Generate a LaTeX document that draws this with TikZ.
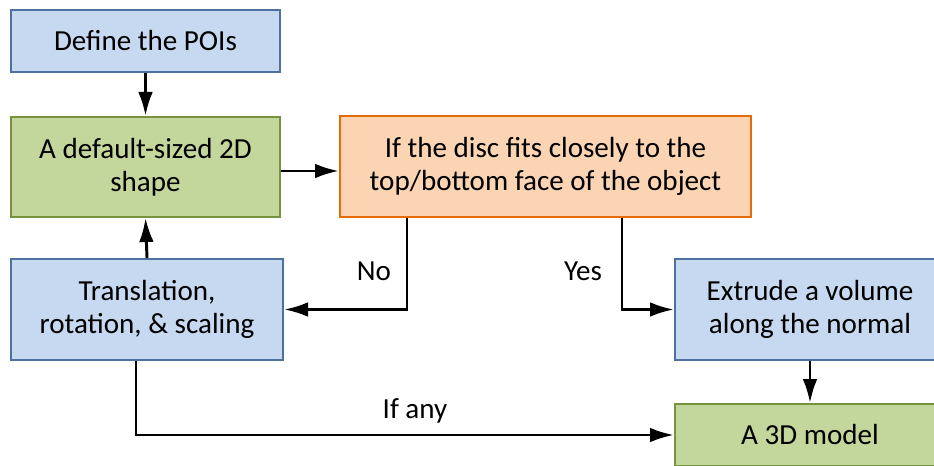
\documentclass[tikz,border=0pt]{standalone}
\usepackage{fontspec}
\setmainfont{Carlito}
\usepackage{tikz}
\usetikzlibrary{arrows.meta}
\definecolor{bfill}  {RGB}{198,217,240}
\definecolor{bline}  {RGB}{79,113,157}
\definecolor{gfill}  {RGB}{195,214,155}
\definecolor{gline}  {RGB}{118,146,60}
\definecolor{ofill}  {RGB}{251,212,180}
\definecolor{oline}  {RGB}{228,108,10}
\tikzset{
    bluebox/.style={draw=bline, fill=bfill, line width=1.5pt, align=center, inner sep=0pt},
    greenbox/.style={draw=gline, fill=gfill, line width=1.5pt, align=center, inner sep=0pt},
    orangebox/.style={draw=oline, fill=ofill, line width=1.5pt, align=center, inner sep=0pt},
    flow/.style={draw=black, line width=2.2pt, -{Latex[length=18pt,width=11pt]}},
    lbl/.style={inner sep=0pt}
  }

\begin{document}
\begin{tikzpicture}[x=0.75pt, y=-0.75pt,
                     font=\fontsize{21.8}{25}\selectfont
     ]
 \clip (0,0) rectangle (934,466);
 %Boxes
     \node[bluebox, minimum width=201.75pt, minimum height=46.5pt] (poi) at (145.5,41) {Define the POIs};
     \node[greenbox, minimum width=201.75pt, minimum height=75pt] (shape) at (145.5,167) {A default-sized 2D\\shape};
     \node[orangebox, minimum width=308.25pt, minimum height=75.75pt] (check) at (545.5,166.5) {If the disc fits closely to the\\top/bottom face of the object};
     \node[bluebox, minimum width=204pt, minimum height=75.75pt] (transform) at (147,309.5) {Translation,\\rotation, \& scaling};
     \node[bluebox, minimum width=202.5pt, minimum height=75.75pt] (extrude) at (810,309.5) {Extrude a volume\\along the normal};
     \node[greenbox, minimum width=202.5pt, minimum height=46.5pt] (model) at (810,435) {A 3D model};
 %Labels
     \node[lbl] (no) at (374,271) {No};
     \node[lbl] (yes) at (583,271) {Yes};
     \node[lbl] (ifany) at (415,411) {If any};
 %Arrows
     \draw[flow] (poi.south) -- (shape.north);
     \draw[flow] (transform.north) -- (shape.south);
     \draw[flow] (shape.east) ++(0,4) -- ++(58,0);
     \draw[flow] (check.south west) ++(68,0) |- (transform.east);
     \draw[flow] (check.south west) ++(283,0) |- (extrude.west);
     \draw[flow] (extrude.south) -- (model.north);
     \draw[flow] (transform.south) ++(-11,0) |- (model.west);
 \end{tikzpicture}
\end{document}
